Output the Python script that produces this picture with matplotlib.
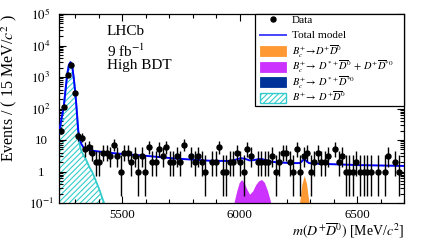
import math
import numpy as np
import matplotlib
matplotlib.use("Agg")
import matplotlib.pyplot as plt
from matplotlib.patches import Rectangle
from matplotlib.lines import Line2D
from matplotlib.ticker import FixedLocator, MultipleLocator, LogLocator, NullFormatter, FixedFormatter

plt.rcParams['font.family'] = ['Liberation Serif', 'DejaVu Serif']
plt.rcParams['mathtext.fontset'] = 'stix'
plt.rcParams['hatch.linewidth'] = 0.8

# ---------------- data ----------------
bin_lo = 5230.0
bin_width = 15.0
counts = [20, 110, 1200, 2460, 310, 13, 12, 5, 6, 4,
          2, 2, 4, 4, 3, 7, 3, 1, 4, 4,
          2, 3, 1, 3, 1, 6, 2, 2, 5, 3,
          6, 2, 2, 3, 2, 7, 0, 3, 2, 3,
          2, 1, 0, 2, 2, 6, 1, 1, 2, 2,
          4, 2, 1, 5, 3, 0, 2, 2, 2, 2,
          3, 1, 2, 4, 4, 2, 1, 5, 1, 3,
          4, 1, 2, 4, 2, 2, 3, 0, 5, 2,
          3, 1, 1, 1, 2, 1, 1, 1, 1, 0,
          1, 0, 1, 3, 0, 2, 1, 0]

# total model (mass in MeV, events per bin)
total_m = [5230, 5240, 5250, 5258, 5265, 5272, 5279, 5286, 5293, 5300, 5306, 5312,
           5318, 5325, 5335, 5345, 5370, 5400, 5450, 5500, 5590, 5720, 5870, 5960,
           5985, 6005, 6025, 6042, 6060, 6078, 6093, 6110, 6135, 6160, 6220, 6255,
           6265, 6275, 6285, 6295, 6320, 6400, 6500, 6600, 6700]
total_y = [16, 45, 110, 400, 1200, 2400, 2950, 2300, 900, 290, 80, 20,
           11, 7.5, 5.7, 5.0, 4.6, 4.3, 3.9, 3.6, 3.2, 2.6, 2.2, 2.15,
           2.4, 2.65, 2.5, 2.25, 2.3, 2.45, 2.5, 2.3, 2.05, 1.95, 1.85, 1.85,
           2.1, 2.55, 2.1, 1.85, 1.78, 1.7, 1.6, 1.55, 1.5]

# B+ -> D+ D0bar component
bp_m = [5230, 5240, 5250, 5258, 5265, 5272, 5279, 5286, 5293, 5300, 5306, 5312,
        5318, 5325, 5335, 5345, 5360, 5372, 5385, 5401, 5412, 5422, 5432]
bp_y = [13, 42, 105, 395, 1195, 2395, 2945, 2295, 895, 286, 76, 15,
        7, 4.5, 3.2, 2.4, 1.35, 0.95, 0.55, 0.28, 0.16, 0.1, 0.065]

# Bc+ -> D*+ D0bar + D+ D*0bar component
bc_partial_m = [5960, 5975, 5988, 5998, 6008, 6018, 6030, 6042, 6055, 6068, 6080,
                6093, 6105, 6118, 6130, 6142]
bc_partial_y = [0.05, 0.1, 0.25, 0.45, 0.55, 0.45, 0.28, 0.19, 0.24, 0.38, 0.5,
                0.56, 0.45, 0.25, 0.12, 0.05]

# Bc+ -> D+ D0bar component
bc_m = [6250, 6258, 6265, 6275, 6285, 6292, 6300]
bc_y = [0.06, 0.15, 0.4, 0.74, 0.4, 0.15, 0.06]

x_ticks = [5500, 6000, 6500]
x_tick_labels = ['5500', '6000', '6500']
y_ticks = [1e-1, 1, 10, 1e2, 1e3, 1e4, 1e5]
y_tick_labels = [r'$10^{-1}$', '1', '10', r'$10^{2}$', r'$10^{3}$', r'$10^{4}$', r'$10^{5}$']

legend_labels = [
    'Data',
    'Total model',
    r'$B_c^{+}\!\rightarrow\! D^{+}\overline{D}^{0}$',
    r'$B_c^{+}\!\rightarrow\ D^{*+}\overline{D}^{0}\,+\,D^{+}\overline{D}^{*0}$',
    r'$B_c^{+}\!\rightarrow\ D^{*+}\overline{D}^{*0}$',
    r'$B^{+}\!\rightarrow\ D^{+}\overline{D}^{0}$',
]

# ---------------- helpers ----------------
def pois_cdf(k, mu):
    if k < 0:
        return 0.0
    i = np.arange(0, k + 1)
    lg = np.array([math.lgamma(v + 1) for v in i])
    logp = -mu + i * math.log(mu) - lg
    return float(np.exp(logp).sum())

def solve(f, lo, hi, target):
    for _ in range(70):
        mid = 0.5 * (lo + hi)
        if f(mid) > target:
            lo = mid
        else:
            hi = mid
    return 0.5 * (lo + hi)

alpha = 0.15865
def garwood(n):
    hi = n + 10 * math.sqrt(n + 1) + 10
    up = solve(lambda mu: pois_cdf(n, mu), 1e-9, hi, alpha)
    if n == 0:
        return 0.0, up
    low = solve(lambda mu: pois_cdf(n - 1, mu), 1e-9, hi, 1 - alpha)
    return low, up

counts_arr = np.array(counts, dtype=float)
centers = bin_lo + bin_width * (np.arange(len(counts)) + 0.5)
mask = counts_arr > 0
errs = [garwood(int(n)) for n in counts_arr[mask]]
err_lo = counts_arr[mask] - np.array([e[0] for e in errs])
err_hi = np.array([e[1] for e in errs]) - counts_arr[mask]

# ---------------- figure ----------------
W, H = 425, 242
AX_L, AX_R, AX_T, AX_B = 59, 404, 14, 203
fig = plt.figure(figsize=(W / 100, H / 100), dpi=100)
ax = fig.add_axes([AX_L / W, 1 - AX_B / H, (AX_R - AX_L) / W, (AX_B - AX_T) / H])

def axx(px):
    return (px - AX_L) / (AX_R - AX_L)

def axy(py):
    return (AX_B - py) / (AX_B - AX_T)

cyan = '#33cccc'
orange = '#ff9933'
magenta = '#cc33ff'
darkblue = '#003399'
blue = '#0000ff'

ax.fill_between(bp_m, bp_y, 1e-3, facecolor='none', edgecolor=cyan, hatch='//////',
                linewidth=0, zorder=1)
ax.plot(bp_m, bp_y, color=cyan, lw=1.3, zorder=2)
ax.fill_between(bc_partial_m, bc_partial_y, 1e-3, color=magenta, linewidth=0, zorder=2)
ax.fill_between(bc_m, bc_y, 1e-3, color=orange, linewidth=0, zorder=2)
ax.plot(total_m, total_y, color=blue, lw=1.4, zorder=3)

ax.errorbar(centers[mask], counts_arr[mask], yerr=[err_lo, err_hi], fmt='o', color='black',
            ms=3.6, elinewidth=1.0, capsize=0, zorder=4)

ax.set_yscale('log')
ax.set_xlim(5230, 6700)
ax.set_ylim(1e-1, 1e5)

ax.xaxis.set_major_locator(FixedLocator(x_ticks))
ax.xaxis.set_major_formatter(FixedFormatter(x_tick_labels))
ax.xaxis.set_minor_locator(MultipleLocator(100))
ax.yaxis.set_major_locator(FixedLocator(y_ticks))
ax.yaxis.set_major_formatter(FixedFormatter(y_tick_labels))
ax.yaxis.set_minor_locator(LogLocator(base=10, subs=np.arange(2, 10), numticks=20))
ax.yaxis.set_minor_formatter(NullFormatter())

ax.tick_params(which='both', direction='in', top=True, right=True, width=0.8, labelsize=9.3)
ax.tick_params(which='major', length=5)
ax.tick_params(which='minor', length=2.8)
ax.tick_params(axis='x', pad=4)
ax.tick_params(axis='y', pad=13)
for lab in ax.get_yticklabels():
    lab.set_horizontalalignment('center')
for s in ax.spines.values():
    s.set_linewidth(0.9)

ax.set_ylabel(r'Events / ( 15 MeV/$c^{2}$ )', fontsize=11.5, loc='top')
ax.yaxis.set_label_coords(-0.115, 1.0)
ax.set_xlabel(r'$m(D^{+}\overline{D}^{0})$ [MeV/$c^{2}$]', fontsize=10, loc='right')
ax.xaxis.set_label_coords(1.0, -0.095)

ax.text(0.138, 0.905, 'LHCb', transform=ax.transAxes, fontsize=11, va='center', ha='left')
ax.text(0.138, 0.80, r'9 fb$^{-1}$', transform=ax.transAxes, fontsize=11, va='center', ha='left')
ax.text(0.138, 0.725, 'High BDT', transform=ax.transAxes, fontsize=11, va='center', ha='left')

# ---------------- legend (drawn as a framed key) ----------------
leg_kw = dict(transform=ax.transAxes, clip_on=False)
ax.add_patch(Rectangle((axx(255), axy(106)), axx(404) - axx(255), axy(14) - axy(106),
                       facecolor='white', edgecolor='black', lw=0.9, zorder=6, **leg_kw))
row_y = [19.3, 34.6, 51.2, 66.6, 82.0, 97.6]
hx0, hx1, hh = 260, 286, 10
styles = [('marker', 'black'), ('line', '#4444ff'), ('box', orange), ('box', magenta),
          ('box', darkblue), ('hatch', cyan)]
for yc, (kind, col), lab in zip(row_y, styles, legend_labels):
    if kind == 'marker':
        ax.add_line(Line2D([axx((hx0 + hx1) / 2)], [axy(yc)], marker='o', ms=3.6, color=col,
                           ls='none', zorder=7, **leg_kw))
    elif kind == 'line':
        ax.add_line(Line2D([axx(hx0), axx(hx1)], [axy(yc), axy(yc)], color=col, lw=1.4,
                           zorder=7, **leg_kw))
    elif kind == 'box':
        ax.add_patch(Rectangle((axx(hx0), axy(yc + hh / 2)), axx(hx1) - axx(hx0),
                               axy(yc - hh / 2) - axy(yc + hh / 2), facecolor=col,
                               edgecolor=col, lw=0.6, zorder=7, **leg_kw))
    else:
        ax.add_patch(Rectangle((axx(hx0), axy(yc + hh / 2)), axx(hx1) - axx(hx0),
                               axy(yc - hh / 2) - axy(yc + hh / 2), facecolor='white',
                               edgecolor=col, hatch='//////', lw=1.0, zorder=7, **leg_kw))
    fs = 8.1 if not lab.startswith('$') else 7.5
    ax.text(axx(292), axy(yc + 3.7), lab, fontsize=fs, ha='left', va='baseline',
            zorder=8, transform=ax.transAxes)

fig.savefig('out.png', dpi=100)
